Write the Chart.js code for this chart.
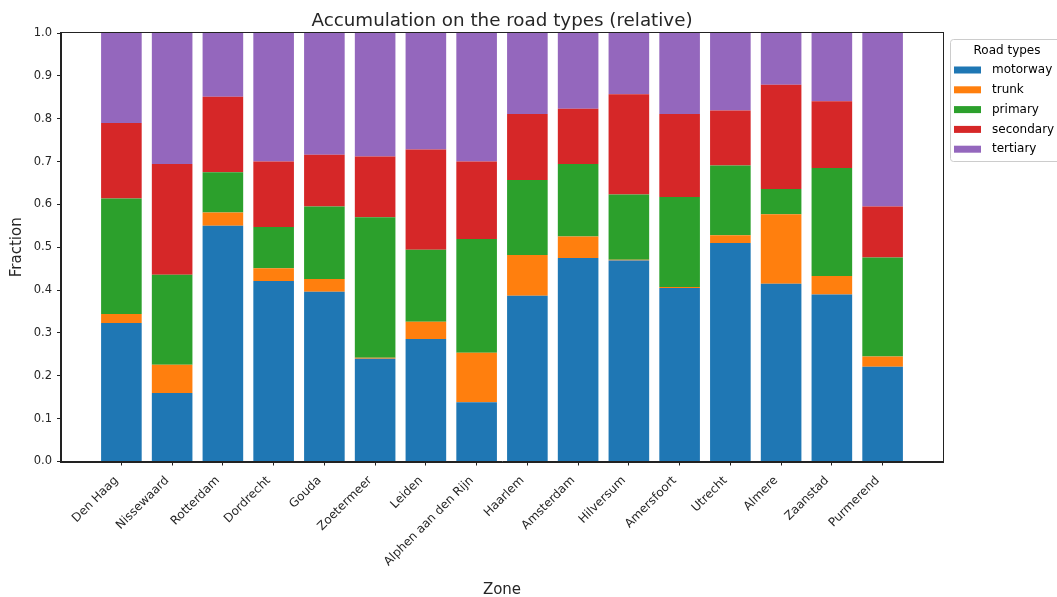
<!DOCTYPE html>
<html>
<head>
<meta charset="utf-8">
<script src="https://cdn.jsdelivr.net/npm/chart.js@4.4.0/dist/chart.umd.min.js"></script>
<style>
  html, body { margin: 0; padding: 0; background: #fff; }
  #wrap { width: 1057px; height: 597px; }
</style>
</head>
<body>
<div id="wrap"><canvas id="G1" width="1057" height="597"></canvas></div>
<script>
var zonas = ["Den Haag", "Nissewaard", "Rotterdam", "Dordrecht", "Gouda", "Zoetermeer", "Leiden",
    "Alphen aan den Rijn", "Haarlem", "Amsterdam", "Hilversum", "Amersfoort", "Utrecht", "Almere",
    "Zaanstad", "Purmerend"];

var motorway  = [0.323, 0.160, 0.550, 0.421, 0.396, 0.240, 0.286, 0.138, 0.387, 0.475, 0.469, 0.405, 0.510, 0.415, 0.390, 0.221];
var trunk     = [0.021, 0.066, 0.031, 0.030, 0.030, 0.002, 0.040, 0.116, 0.095, 0.050, 0.002, 0.002, 0.018, 0.162, 0.043, 0.024];
var primary   = [0.270, 0.210, 0.094, 0.096, 0.169, 0.328, 0.168, 0.265, 0.175, 0.169, 0.152, 0.210, 0.163, 0.059, 0.252, 0.231];
var secondary = [0.176, 0.258, 0.176, 0.153, 0.121, 0.142, 0.234, 0.181, 0.154, 0.129, 0.234, 0.194, 0.128, 0.243, 0.156, 0.119];
var tertiary  = [0.210, 0.306, 0.149, 0.300, 0.284, 0.290, 0.272, 0.300, 0.189, 0.177, 0.143, 0.189, 0.181, 0.121, 0.159, 0.405];

var yTicks = [0, 0.1, 0.2, 0.3, 0.4, 0.5, 0.6, 0.7, 0.8, 0.9, 1.0];

const FUENTE = "'DejaVu Sans', sans-serif";
const TINTA = '#262626';

function serie(label, valores, color) {
    return {
        label: label,
        data: valores.map(function (v, i) { return {x: i, y: v}; }),
        backgroundColor: color,
        borderWidth: 0,
        barPercentage: 0.8,
        categoryPercentage: 1.0
    };
}

var datos = [
    serie("motorway", motorway, '#1f77b4'),
    serie("trunk", trunk, '#ff7f0e'),
    serie("primary", primary, '#2ca02c'),
    serie("secondary", secondary, '#d62728'),
    serie("tertiary", tertiary, '#9467bd')
];

// marco, titulos y leyenda dibujados a mano
var extras = {
    id: 'extras',
    afterDraw: function (chart) {
        var ctx = chart.ctx, a = chart.chartArea;
        ctx.save();
        ctx.strokeStyle = '#222';
        ctx.lineWidth = 1;
        ctx.strokeRect(Math.round(a.left) - 0.5, Math.round(a.top) - 0.5,
            Math.round(a.right - a.left) + 1, Math.round(a.bottom - a.top) + 1);

        var cx = (a.left + a.right) / 2;
        ctx.fillStyle = TINTA;
        ctx.textAlign = 'center';
        ctx.textBaseline = 'alphabetic';
        ctx.font = "18.3px " + FUENTE;
        ctx.fillText("Accumulation on the road types (relative)", cx, 26);
        ctx.font = "15px " + FUENTE;
        ctx.fillText("Zone", cx, 593.5);
        ctx.save();
        ctx.translate(20.5, (a.top + a.bottom) / 2);
        ctx.rotate(-Math.PI / 2);
        ctx.fillText("Fraction", 0, 0);
        ctx.restore();

        // leyenda
        ctx.strokeStyle = '#cccccc';
        ctx.fillStyle = 'rgba(255,255,255,0.8)';
        ctx.beginPath();
        ctx.roundRect(950.5, 39.5, 130, 122, 3);
        ctx.fill();
        ctx.stroke();
        ctx.fillStyle = '#000';
        ctx.font = "12px " + FUENTE;
        ctx.textAlign = 'center';
        ctx.textBaseline = 'middle';
        ctx.fillText("Road types", 1007, 51);
        ctx.textAlign = 'left';
        chart.data.datasets.forEach(function (ds, i) {
            var y = 70 + i * 19.8;
            ctx.fillStyle = ds.backgroundColor;
            ctx.fillRect(954, y - 3.5, 27, 7);
            ctx.fillStyle = '#000';
            ctx.fillText(ds.label, 992, y);
        });
        ctx.restore();
    }
};

var grafico = new Chart(document.getElementById("G1").getContext("2d"), {
    type: 'bar',
    data: { datasets: datos },
    options: {
        responsive: false,
        animation: false,
        layout: { padding: { left: 0, top: 33, right: 114, bottom: 0 } },
        plugins: { legend: { display: false }, title: { display: false }, tooltip: { enabled: false } },
        scales: {
            x: {
                type: 'linear',
                stacked: true,
                offset: false,
                min: -1.19,
                max: 16.19,
                afterFit: function (s) { s.height = 597 - 461.5; },
                afterBuildTicks: function (s) { s.ticks = zonas.map(function (z, i) { return {value: i}; }); },
                grid: { display: true, offset: false, drawOnChartArea: false, drawTicks: true, tickLength: 4, color: '#222' },
                border: { display: true, color: '#222' },
                ticks: {
                    autoSkip: false,
                    minRotation: 45,
                    maxRotation: 45,
                    padding: 8,
                    labelOffset: -5,
                    color: TINTA,
                    font: { family: FUENTE, size: 12 },
                    callback: function (v) { return zonas[v]; }
                }
            },
            y: {
                stacked: true,
                min: 0,
                max: 1,
                afterFit: function (s) { s.width = 61; },
                afterBuildTicks: function (s) { s.ticks = yTicks.map(function (v) { return {value: v}; }); },
                grid: { display: true, drawOnChartArea: false, drawTicks: true, tickLength: 4, color: '#222' },
                border: { display: true, color: '#222' },
                ticks: {
                    padding: 5,
                    color: TINTA,
                    font: { family: FUENTE, size: 11.5 },
                    callback: function (v) { return v.toFixed(1); }
                }
            }
        }
    },
    plugins: [extras]
});
</script>
</body>
</html>
